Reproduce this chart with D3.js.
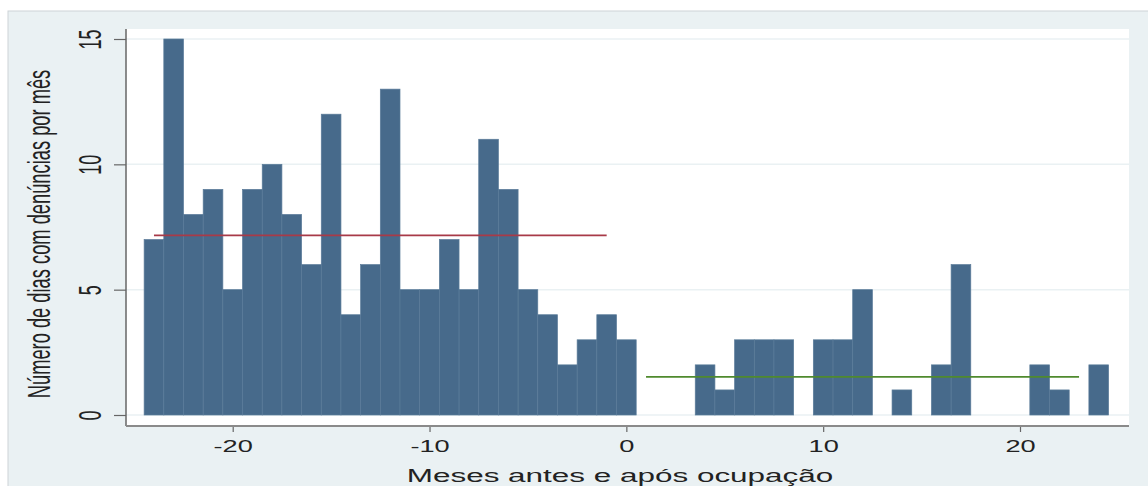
<!DOCTYPE html>
<html>
<head>
<meta charset="utf-8">
<script src="https://cdn.jsdelivr.net/npm/d3@7"></script>
<style>
body { margin: 0; background: #fff; }
text { font-family: "Liberation Sans", Arial, sans-serif; fill: #222; }
</style>
</head>
<body>
<div id="chart"></div>
<script>
var w = 1148;
var h = 486;

// months before / after occupation
var months = [-24, -23, -22, -21, -20, -19, -18, -17, -16, -15, -14, -13, -12,
              -11, -10, -9, -8, -7, -6, -5, -4, -3, -2, -1, 0,
              1, 2, 3, 4, 5, 6, 7, 8, 9, 10, 11, 12, 13, 14, 15, 16,
              17, 18, 19, 20, 21, 22, 23, 24];
// days with reports per month
var days = [7, 15, 8, 9, 5, 9, 10, 8, 6, 12, 4, 6, 13,
            5, 5, 7, 5, 11, 9, 5, 4, 2, 3, 4, 3,
            0, 0, 0, 2, 1, 3, 3, 3, 0, 3, 3, 5, 0, 1, 0, 2,
            6, 0, 0, 0, 2, 1, 0, 2];

var xTicks = [-20, -10, 0, 10, 20];
var yTicks = [0, 5, 10, 15];

// mean lines: before (-24..-1) and after (1..23)
var periods = [
    {from: -24, to: -1, color: '#a83a48'},
    {from: 1, to: 23, color: '#4f8a2e'}
];

var xTitle = 'Meses antes e após ocupação';
var yTitle = 'Número de dias com denúncias por mês';

var sx = 1.7;   // the picture is stretched sideways

var svg = d3.select('#chart')
            .append('svg')
            .attr('width', w)
            .attr('height', h);

// outer graph region
svg.append('rect')
   .attr('x', 8).attr('y', 11)
   .attr('width', w).attr('height', h)
   .style('fill', '#eaf1f3')
   .style('stroke', '#cdd4d7');

// plot region
var pLeft = 126, pRight = 1129, pTop = 29, pBottom = 426;
svg.append('rect')
   .attr('x', pLeft).attr('y', pTop)
   .attr('width', pRight - pLeft).attr('height', pBottom - pTop)
   .style('fill', '#fff');

var x = d3.scaleLinear()
          .domain([-20, 20])
          .range([232.7, 1020]);

var y = d3.scaleLinear()
          .domain([0, 15])
          .range([415, 39]);

// grid
svg.append('g')
   .selectAll('line')
   .data(yTicks)
   .enter()
   .append('line')
   .attr('x1', pLeft).attr('x2', pRight)
   .attr('y1', function(d) { return y(d); })
   .attr('y2', function(d) { return y(d); })
   .style('stroke', '#eaf1f3')
   .style('stroke-width', 1.5);

var data = months.map(function(m, i) { return {m: m, v: days[i]}; });

svg.append('g')
   .selectAll('rect')
   .data(data.filter(function(d) { return d.v > 0; }))
   .enter()
   .append('rect')
   .attr('x', function(d) { return x(d.m - 0.5); })
   .attr('width', function(d) { return x(d.m + 0.5) - x(d.m - 0.5); })
   .attr('y', function(d) { return y(d.v); })
   .attr('height', function(d) { return y(0) - y(d.v); })
   .style('fill', '#476a8b')
   .style('stroke', '#5a7b99')
   .style('stroke-width', 0.7);

// mean lines
periods.forEach(function(p) {
    var sel = data.filter(function(d) { return d.m >= p.from && d.m <= p.to; });
    var mean = d3.mean(sel, function(d) { return d.v; });
    svg.append('line')
       .attr('x1', x(p.from)).attr('x2', x(p.to))
       .attr('y1', y(mean)).attr('y2', y(mean))
       .style('stroke', p.color)
       .style('stroke-width', 1.6);
});

// y axis
var yAxis = d3.axisLeft(y)
              .tickValues(yTicks)
              .tickSize(12)
              .tickSizeOuter(0)
              .tickFormat(function(d) { return String(d); });
var gy = svg.append('g')
            .attr('transform', 'translate(' + pLeft + ',0)')
            .call(yAxis);
gy.select('.domain').remove();
gy.selectAll('.tick line').style('stroke', '#666').style('stroke-width', 1.2);
gy.selectAll('.tick text')
  .attr('x', null).attr('dy', null)
  .attr('transform', 'translate(-25,0) scale(' + sx + ',1) rotate(-90)')
  .attr('text-anchor', 'middle')
  .style('font-size', '18px')
  .style('fill', '#222');
svg.append('line')
   .attr('x1', pLeft).attr('x2', pLeft)
   .attr('y1', pTop).attr('y2', pBottom)
   .style('stroke', '#666')
   .style('stroke-width', 1.5);

// x axis
var xAxis = d3.axisBottom(x)
              .tickValues(xTicks)
              .tickSize(6)
              .tickSizeOuter(0)
              .tickFormat(function(d) { return String(d); });
var gx = svg.append('g')
            .attr('transform', 'translate(0,' + pBottom + ')')
            .call(xAxis);
gx.select('.domain').remove();
gx.selectAll('.tick line').style('stroke', '#666').style('stroke-width', 1.2);
gx.selectAll('.tick text')
  .attr('y', null).attr('dy', null)
  .attr('transform', 'translate(0,26) scale(' + sx + ',1)')
  .attr('text-anchor', 'middle')
  .style('font-size', '16px')
  .style('fill', '#222');
svg.append('line')
   .attr('x1', pLeft).attr('x2', pRight)
   .attr('y1', pBottom).attr('y2', pBottom)
   .style('stroke', '#8a8a8a')
   .style('stroke-width', 2);

// titles
svg.append('text')
   .attr('transform', 'translate(620,482) scale(' + sx + ',1)')
   .attr('text-anchor', 'middle')
   .style('font-size', '18.5px')
   .text(xTitle);

svg.append('text')
   .attr('transform', 'translate(49.5,234) scale(' + sx + ',1) rotate(-90)')
   .attr('text-anchor', 'middle')
   .style('font-size', '18.3px')
   .text(yTitle);
</script>
</body>
</html>
